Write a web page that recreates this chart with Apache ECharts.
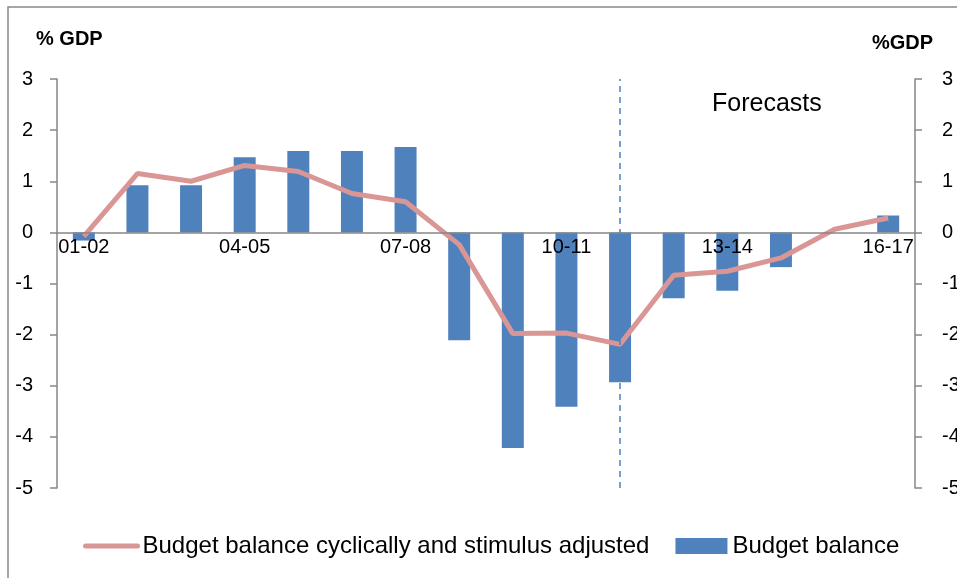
<!DOCTYPE html>
<html>
<head>
<meta charset="utf-8">
<script src="https://cdn.jsdelivr.net/npm/echarts@6/dist/echarts.min.js"></script>
<style>
  html, body { margin: 0; padding: 0; background: #fff; }
  #chart { width: 957px; height: 578px; }
</style>
</head>
<body>
<div id="chart"></div>
<script>
// years (fiscal)
const categories = ["01-02", "02-03", "03-04", "04-05", "05-06", "06-07", "07-08", "08-09",
  "09-10", "10-11", "11-12", "12-13", "13-14", "14-15", "15-16", "16-17"];
// Budget balance (bars)
const budgetBalance = [-0.16, 0.92, 0.92, 1.47, 1.59, 1.59, 1.67, -2.11,
  -4.22, -3.41, -2.93, -1.29, -1.14, -0.68, 0, 0.33];
// cyclically and stimulus adjusted (line)
const adjustedBalance = [-0.08, 1.15, 1.0, 1.31, 1.19, 0.76, 0.6, -0.24,
  -1.98, -1.97, -2.19, -0.84, -0.76, -0.5, 0.06, 0.28];
const forecastStart = "11-12";
const yTicks = { min: -5, max: 3, interval: 1 };

const chart = echarts.init(document.getElementById("chart"));
const fontFamily = "Liberation Sans";
const axisGrey = "#868686";
const gridTop = 79, gridBottom = 90;
const gridHeight = 578 - gridTop - gridBottom;
// lift the category axis from the bottom edge up to the value 0
const zeroOffset = -gridHeight * (0 - yTicks.min) / (yTicks.max - yTicks.min);

const option = {
  animation: false,
  textStyle: { fontFamily: fontFamily, color: "#000" },
  grid: { left: 57, right: 42, top: gridTop, bottom: gridBottom, outerBoundsMode: "none" },
  graphic: [
    {
      type: "rect",
      shape: { x: 8, y: 7, width: 1200, height: 1000 },
      style: { fill: "none", stroke: "#898989", lineWidth: 1.5 },
      silent: true
    },
    {
      type: "text",
      left: 36, top: 29,
      style: { text: "% GDP", font: "bold 20px " + fontFamily, fill: "#000" }
    },
    {
      type: "text",
      left: 872, top: 33,
      style: { text: "%GDP", font: "bold 20px " + fontFamily, fill: "#000" }
    },
    {
      type: "text",
      left: 712, top: 92,
      style: { text: "Forecasts", font: "25px " + fontFamily, fill: "#000" }
    }
  ],
  legend: {
    left: 78, top: 529,
    itemWidth: 52, itemHeight: 16, itemGap: 26,
    textStyle: { fontSize: 24, fontFamily: fontFamily, color: "#000" },
    data: [
      {
        name: "Budget balance cyclically and stimulus adjusted",
        itemStyle: { color: "rgba(0,0,0,0)", borderWidth: 0 },
        lineStyle: { width: 5, cap: "round" }
      },
      { name: "Budget balance", icon: "rect" }
    ]
  },
  xAxis: {
    type: "category",
    data: categories,
    position: "bottom",
    offset: zeroOffset,
    z: 10,
    axisLine: { onZero: false, lineStyle: { color: axisGrey, width: 1.5 } },
    axisTick: { interval: 0, length: 7, lineStyle: { color: axisGrey, width: 1.5 } },
    axisLabel: { interval: 2, fontSize: 20, color: "#000", margin: 5 }
  },
  yAxis: [
    {
      type: "value",
      min: yTicks.min, max: yTicks.max, interval: yTicks.interval,
      splitLine: { show: false },
      axisLine: { show: true, lineStyle: { color: axisGrey, width: 1.5 } },
      axisTick: { show: true, length: 7, lineStyle: { color: axisGrey, width: 1.5 } },
      axisLabel: { fontSize: 20, color: "#000", margin: 24 }
    },
    {
      type: "value",
      position: "right",
      min: yTicks.min, max: yTicks.max, interval: yTicks.interval,
      splitLine: { show: false },
      axisLine: { show: true, lineStyle: { color: axisGrey, width: 1.5 } },
      axisTick: { show: true, length: 7, lineStyle: { color: axisGrey, width: 1.5 } },
      axisLabel: { fontSize: 20, color: "#000", margin: 27 }
    }
  ],
  series: [
    {
      name: "Budget balance",
      type: "bar",
      data: budgetBalance,
      barWidth: "41%",
      itemStyle: { color: "#4F81BD" },
      z: 2,
      markLine: {
        silent: true,
        symbol: "none",
        label: { show: false },
        lineStyle: { color: "#4F81BD", type: [6, 5], width: 1.5 },
        data: [{ xAxis: forecastStart }]
      }
    },
    {
      name: "Budget balance cyclically and stimulus adjusted",
      type: "line",
      data: adjustedBalance,
      symbol: "none",
      lineStyle: { color: "#D99694", width: 5 },
      itemStyle: { color: "#D99694" },
      z: 3
    }
  ]
};

chart.setOption(option);
</script>
</body>
</html>
